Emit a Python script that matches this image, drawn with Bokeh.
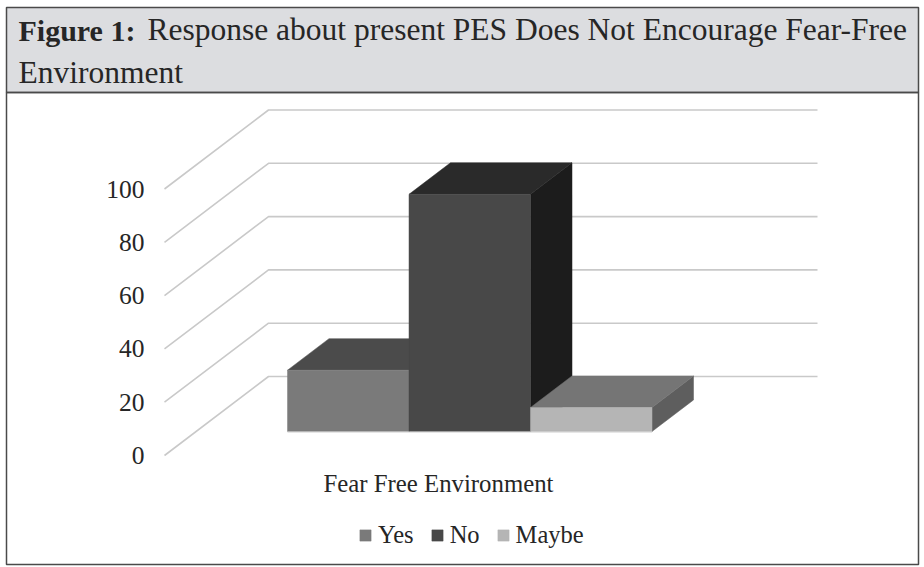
from bokeh.embed import file_html
from bokeh.models import (BoxAnnotation, FixedTicker, Label, Legend, LegendItem,
                          LinearAxis, Range1d)
from bokeh.plotting import figure
from bokeh.resources import INLINE

# Chart content
category = "Fear Free Environment"
series = ["Yes", "No", "Maybe"]
values = [23, 89, 9]
ticks = [0, 20, 40, 60, 80, 100]
title_bold = "Figure 1:"
title_line1 = "Response about present PES Does Not Encourage Fear-Free"
title_line2 = "Environment"

# Shades per series: front, top and side faces of each block
front_faces = ["#7a7a7a", "#484848", "#b5b5b5"]
top_faces = ["#4b4b4b", "#2a2a2a", "#757575"]
side_faces = ["#5e5e5e", "#1c1c1c", "#5e5e5e"]

W, H = 924, 567
PX_PER_UNIT = 2.665
ZERO_PX = 455
SERIF = "Liberation Serif"
INK = "#262626"

# Oblique projection: the floor recedes by (DEPTH_X, DEPTH_Y) pixels
ORIGIN_X, DEPTH_X, DEPTH_Y = 164, 104, 79
WALL_RIGHT = 817


def px(u, d):
    return ORIGIN_X + u + DEPTH_X * d


def py(v, d):
    return v + d * DEPTH_Y / PX_PER_UNIT


p = figure(width=W, height=H, output_backend="svg", toolbar_location=None,
           x_range=Range1d(0, W),
           y_range=Range1d((ZERO_PX - H) / PX_PER_UNIT, ZERO_PX / PX_PER_UNIT),
           x_axis_location=None, y_axis_location=None,
           min_border=0, outline_line_color=None,
           background_fill_color="white", border_fill_color="white")
p.grid.visible = False

# The negative standoff pulls the tick labels into the plot area
axis = LinearAxis(ticker=FixedTicker(ticks=ticks), axis_line_color=None,
                  major_tick_line_color=None, minor_tick_line_color=None,
                  major_label_text_font=SERIF, major_label_text_font_size="25.5px",
                  major_label_text_color=INK, major_label_standoff=-150)
p.add_layout(axis, "left")

# Side wall and back wall rules
for t in ticks:
    p.line([px(0, 0), px(0, 1), WALL_RIGHT], [py(t, 0), py(t, 1), py(t, 1)],
           line_color="#c9c9c9", line_width=1.6)

# Blocks, one face polygon at a time, back to front by series order
BAR_U0, BAR_W = 91.4, 121.5
D0, D1 = 0.304, 0.703
legend_items = []
for i, (name, val) in enumerate(zip(series, values)):
    u0, u1 = BAR_U0 + i * BAR_W, BAR_U0 + (i + 1) * BAR_W
    p.patch([px(u1, D0), px(u1, D1), px(u1, D1), px(u1, D0)],
            [py(0, D0), py(0, D1), py(val, D1), py(val, D0)],
            fill_color=side_faces[i], line_color=side_faces[i], line_width=0.5)
    p.patch([px(u0, D0), px(u1, D0), px(u1, D1), px(u0, D1)],
            [py(val, D0), py(val, D0), py(val, D1), py(val, D1)],
            fill_color=top_faces[i], line_color=top_faces[i], line_width=0.5)
    front = p.patch([px(u0, D0), px(u1, D0), px(u1, D0), px(u0, D0)],
                    [py(0, D0), py(0, D0), py(val, D0), py(val, D0)],
                    fill_color=front_faces[i], line_color=front_faces[i], line_width=0.5)
    legend_items.append(LegendItem(label=name, renderers=[front]))

# Faint floor edge under the row of blocks
p.line([px(BAR_U0, D0), px(BAR_U0 + len(series) * BAR_W, D0)], [py(0, D0) - 0.2, py(0, D0) - 0.2],
       line_color="#cfcfcf", line_width=1)

legend = Legend(items=legend_items, orientation="horizontal", location=(358, H - 549),
                glyph_width=14, glyph_height=14, label_standoff=6, spacing=16, padding=0, margin=0,
                border_line_color=None, background_fill_alpha=0,
                label_text_font=SERIF, label_text_font_size="24.5px", label_text_color=INK)
p.add_layout(legend, "center")

# Header band and frame
p.add_layout(BoxAnnotation(left=6, right=918, top=7, bottom=92,
                           left_units="canvas", right_units="canvas",
                           top_units="canvas", bottom_units="canvas",
                           fill_color="#dcdde0", fill_alpha=1,
                           line_color="#4a4a4a", line_alpha=1, line_width=1.5))
p.add_layout(BoxAnnotation(left=6, right=918, top=92, bottom=564,
                           left_units="canvas", right_units="canvas",
                           top_units="canvas", bottom_units="canvas",
                           fill_alpha=0, line_color="#4a4a4a", line_alpha=1, line_width=1.5))


def caption(x, baseline, text, size, style="normal"):
    # Labels sit about 0.37 em under the requested canvas position
    p.add_layout(Label(x=x, y=baseline - 0.37 * size, x_units="canvas", y_units="canvas", text=text,
                       text_font=SERIF, text_font_size=f"{size}px", text_font_style=style,
                       text_color=INK, text_baseline="alphabetic"))


caption(18, 41, title_bold, 30, "bold")
caption(147, 41, title_line1, 31.5)
caption(18, 84, title_line2, 31.5)
caption(323, 492, category, 24.8)

open("out.html", "w").write(file_html(p, INLINE))
